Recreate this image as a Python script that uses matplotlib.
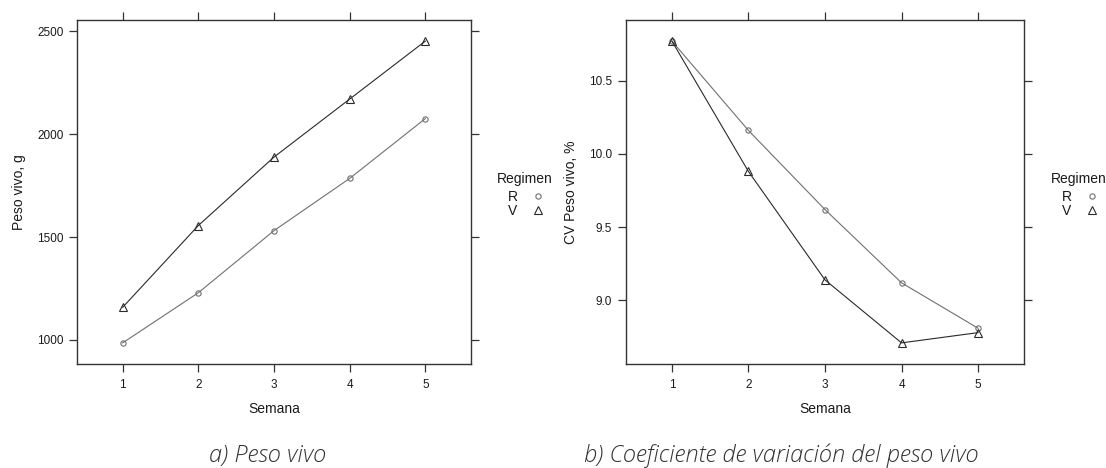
import matplotlib.pyplot as plt
from matplotlib.lines import Line2D

# semanas de muestreo
semanas = [1, 2, 3, 4, 5]

# peso vivo medio (g) por regimen
peso_R = [985, 1229, 1531, 1785, 2076]
peso_V = [1158, 1556, 1889, 2171, 2453]

# coeficiente de variacion del peso vivo (%)
cv_R = [10.77, 10.16, 9.62, 9.12, 8.81]
cv_V = [10.77, 9.88, 9.14, 8.71, 8.78]

regimenes = ["R", "V"]
captions = ["a) Peso vivo", "b) Coeficiente de variación del peso vivo"]

plt.rcParams['font.family'] = ['Liberation Sans', 'DejaVu Sans']

COL_R = "#707070"
COL_V = "#2a2a2a"
EJE = "#333333"
TXT = "#1a1a1a"


def limites(valores, ext=0.07):
    lo, hi = min(valores), max(valores)
    d = (hi - lo) * ext
    return lo - d, hi + d


def panel(ax, y_r, y_v, ylabel, yticks, ytick_labels):
    ax.plot(semanas, y_r, color=COL_R, lw=0.8, marker="o", ms=3.8,
            mfc="none", mec=COL_R, mew=0.8)
    ax.plot(semanas, y_v, color=COL_V, lw=0.8, marker="^", ms=5.5,
            mfc="none", mec=COL_V, mew=0.8)

    ax.set_xlim(0.4, 5.6)
    ax.set_ylim(*limites(y_r + y_v))
    ax.set_xticks(semanas)
    ax.set_xticklabels([str(s) for s in semanas])
    ax.set_yticks(yticks)
    ax.set_yticklabels(ytick_labels)

    ax.tick_params(direction="out", length=6, width=0.9, color=EJE,
                   labelsize=8.5, labelcolor=TXT,
                   top=True, right=True, labeltop=False, labelright=False)
    ax.tick_params(axis="x", pad=5)
    ax.tick_params(axis="y", pad=4)
    for s in ax.spines.values():
        s.set_color(EJE)
        s.set_linewidth(1.0)

    ax.set_xlabel("Semana", fontsize=10, color=TXT, labelpad=8)
    ax.set_ylabel(ylabel, fontsize=10, color=TXT, labelpad=8)

    # leyenda: titulo aparte y simbolos a la derecha de la etiqueta
    ax.text(1.137, 0.538, "Regimen", transform=ax.transAxes, ha="center",
            va="center", fontsize=10, color=TXT)
    handles = [
        Line2D([], [], ls="none", marker="o", ms=3.8, mfc="none", mec=COL_R, mew=0.8),
        Line2D([], [], ls="none", marker="^", ms=5.5, mfc="none", mec=COL_V, mew=0.8),
    ]
    leg = ax.legend(handles, regimenes, loc="upper center",
                    bbox_to_anchor=(1.14, 0.505), frameon=False,
                    markerfirst=False, handlelength=0.8, handletextpad=1.1,
                    labelspacing=0.0, fontsize=10,
                    borderpad=0, borderaxespad=0)
    for t in leg.get_texts():
        t.set_color(TXT)


fig = plt.figure(figsize=(11.06, 4.68), dpi=100)

ax1 = fig.add_axes([77.3 / 1106, 1 - 364 / 468, 393.4 / 1106, 344 / 468])
panel(ax1, peso_R, peso_V, "Peso vivo, g",
      [1000, 1500, 2000, 2500], ["1000", "1500", "2000", "2500"])

ax2 = fig.add_axes([626 / 1106, 1 - 364 / 468, 398 / 1106, 344 / 468])
panel(ax2, cv_R, cv_V, "CV Peso vivo, %",
      [9.0, 9.5, 10.0, 10.5], ["9.0", "9.5", "10.0", "10.5"])

# pies de figura
fig.text(268 / 1106, 1 - 456 / 468, captions[0], ha="center", va="center",
         fontsize=17, style="italic", family=["Open Sans", "DejaVu Sans"],
         color="#333333", fontweight="light")
fig.text(781 / 1106, 1 - 456 / 468, captions[1], ha="center", va="center",
         fontsize=17, style="italic", family=["Open Sans", "DejaVu Sans"],
         color="#333333", fontweight="light")

fig.savefig("out.png", dpi=100, facecolor="white")
